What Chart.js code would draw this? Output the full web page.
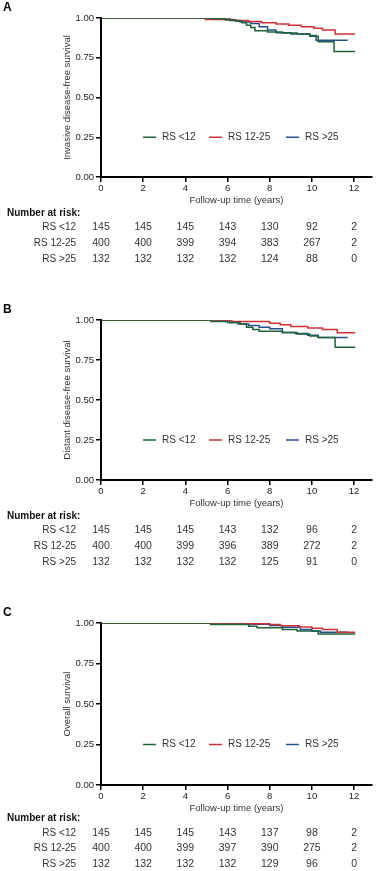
<!DOCTYPE html>
<html>
<head>
<meta charset="utf-8">
<script src="https://cdn.jsdelivr.net/npm/chart.js@4.4.1/dist/chart.umd.min.js"></script>
<style>
  body { margin: 0; background: #fff; width: 376px; height: 871px; overflow: hidden; position: relative; }
  .panel { position: absolute; left: 0; width: 376px; }
</style>
</head>
<body>
<div class="panel" style="top:0;height:302px"><canvas id="chartA"></canvas></div>
<div class="panel" style="top:302px;height:303px"><canvas id="chartB"></canvas></div>
<div class="panel" style="top:605px;height:266px"><canvas id="chartC"></canvas></div>
<script>
// Shared labels and ticks
const groupLabels = ['RS <12', 'RS 12-25', 'RS >25'];
const xTicks = [0, 2, 4, 6, 8, 10, 12];
const yTicks = [0, 0.25, 0.5, 0.75, 1];
const riskTimes = [0, 2, 4, 6, 8, 10, 12];

// A - invasive disease-free survival
const idfsLowTime = [0, 5.3, 5.9, 6.4, 6.7, 6.9, 7.1, 7.3, 7.9, 8.6, 9.3, 9.9, 10.3, 11.05, 12.05];
const idfsLowSurv = [1, 0.995, 0.988, 0.98, 0.97, 0.955, 0.94, 0.92, 0.912, 0.905, 0.9, 0.885, 0.85, 0.79, 0.79];
const idfsMidTime = [0, 4.95, 6.3, 7.0, 7.6, 8.3, 8.9, 9.5, 10.1, 10.5, 11.1, 12.05];
const idfsMidSurv = [1, 0.99, 0.985, 0.978, 0.97, 0.962, 0.955, 0.945, 0.935, 0.925, 0.9, 0.9];
const idfsHighTime = [0, 6.1, 6.6, 7.1, 7.5, 7.9, 8.3, 9.0, 9.9, 10.2, 11.7];
const idfsHighSurv = [1, 0.985, 0.975, 0.965, 0.945, 0.925, 0.908, 0.9, 0.89, 0.86, 0.86];
const idfsRiskLow = [145, 145, 145, 143, 130, 92, 2];
const idfsRiskMid = [400, 400, 399, 394, 383, 267, 2];
const idfsRiskHigh = [132, 132, 132, 132, 124, 88, 0];

// B - distant disease-free survival
const ddfsLowTime = [0, 5.2, 6.0, 6.6, 6.9, 7.2, 7.5, 8.6, 9.3, 9.9, 10.3, 11.1, 12.05];
const ddfsLowSurv = [1, 0.99, 0.985, 0.975, 0.955, 0.94, 0.93, 0.922, 0.912, 0.9, 0.89, 0.83, 0.83];
const ddfsMidTime = [0, 6.2, 8.0, 8.5, 9.0, 9.8, 10.5, 11.2, 12.05];
const ddfsMidSurv = [1, 0.99, 0.98, 0.97, 0.96, 0.95, 0.94, 0.92, 0.92];
const ddfsHighTime = [0, 6.1, 6.5, 7.0, 7.5, 8.0, 8.6, 9.2, 9.8, 10.3, 11.7];
const ddfsHighSurv = [1, 0.985, 0.975, 0.965, 0.955, 0.945, 0.922, 0.915, 0.905, 0.89, 0.89];
const ddfsRiskLow = [145, 145, 145, 143, 132, 96, 2];
const ddfsRiskMid = [400, 400, 399, 396, 389, 272, 2];
const ddfsRiskHigh = [132, 132, 132, 132, 125, 91, 0];

// C - overall survival
const osLowTime = [0, 5.2, 7.0, 7.4, 8.6, 9.3, 10.3, 12.05];
const osLowSurv = [1, 0.99, 0.98, 0.97, 0.96, 0.95, 0.932, 0.932];
const osMidTime = [0, 6.3, 8.0, 8.5, 9.4, 10.0, 10.5, 11.2, 12.05];
const osMidSurv = [1, 0.995, 0.99, 0.983, 0.975, 0.968, 0.96, 0.943, 0.943];
const osHighTime = [0, 6.1, 8.0, 8.6, 9.45, 10.0, 10.4, 11.7];
const osHighSurv = [1, 0.992, 0.985, 0.973, 0.96, 0.95, 0.943, 0.943];
const osRiskLow = [145, 145, 145, 143, 137, 98, 2];
const osRiskMid = [400, 400, 399, 397, 390, 275, 2];
const osRiskHigh = [132, 132, 132, 132, 129, 96, 0];

const FONT = "'Liberation Sans', Arial, sans-serif";
const groupColors = ['#1d6336', '#cf3036', '#24508e'];

const toPoints = (t, s) => t.map((v, i) => ({ x: v, y: s[i] }));

// Draws panel letter, in-plot legend and the number-at-risk table
const panelExtras = {
    id: 'panelExtras',
    afterDraw(chart, args, opts) {
        const { ctx, chartArea, scales } = chart;
        ctx.save();
        ctx.textBaseline = 'middle';

        ctx.font = 'bold 12px ' + FONT;
        ctx.fillStyle = '#000';
        ctx.textAlign = 'left';
        ctx.fillText(opts.letter, 3, chartArea.top - 10);

        // legend sits on the 0.25 line
        const ly = scales.y.getPixelForValue(0.25);
        const starts = [42, 108, 185];
        ctx.font = '10px ' + FONT;
        groupLabels.forEach((lab, i) => {
            const lx = chartArea.left + starts[i];
            ctx.strokeStyle = groupColors[i];
            ctx.lineWidth = 1.5;
            ctx.beginPath();
            ctx.moveTo(lx, ly);
            ctx.lineTo(lx + 13, ly);
            ctx.stroke();
            ctx.fillStyle = '#333';
            ctx.fillText(lab, lx + 19, ly);
        });

        const b = chartArea.bottom;
        ctx.font = 'bold 10px ' + FONT;
        ctx.fillStyle = '#111';
        ctx.textAlign = 'left';
        ctx.fillText('Number at risk:', 7, b + opts.rows[0]);

        opts.risk.forEach((row, i) => {
            const ry = b + opts.rows[i + 1];
            ctx.fillStyle = '#333';
            ctx.font = '10px ' + FONT;
            ctx.textAlign = 'right';
            ctx.fillText(groupLabels[i], 76, ry);
            ctx.font = '10.5px ' + FONT;
            ctx.textAlign = 'center';
            row.forEach((n, j) => ctx.fillText(String(n), scales.x.getPixelForValue(riskTimes[j]), ry));
        });
        ctx.restore();
    }
};

function makePanel(id, p) {
    const series = [p.low, p.mid, p.high];
    new Chart(document.getElementById(id), {
        type: 'line',
        data: {
            datasets: series.map((s, i) => ({
                label: groupLabels[i],
                data: toPoints(s[0], s[1]),
                borderColor: groupColors[i],
                borderWidth: 1.5,
                stepped: true,
                pointRadius: 0,
                fill: false
            }))
        },
        options: {
            responsive: true,
            maintainAspectRatio: false,
            animation: false,
            layout: { padding: { top: 18, right: 4, left: 0, bottom: p.padBottom } },
            plugins: {
                legend: { display: false },
                tooltip: { enabled: false },
                panelExtras: { letter: p.letter, risk: p.risk, rows: p.rows }
            },
            scales: {
                x: {
                    type: 'linear',
                    min: 0,
                    max: 12.85,
                    afterBuildTicks: s => { s.ticks = xTicks.map(v => ({ value: v })); },
                    afterFit: s => { s.height = 29; },
                    grid: { drawOnChartArea: false, color: '#000', lineWidth: 1.5, tickLength: 5 },
                    border: { color: '#000', width: 2 },
                    ticks: { color: '#222', font: { size: 9.5, family: FONT }, padding: 1, maxRotation: 0 },
                    title: {
                        display: true, text: 'Follow-up time (years)', color: '#333',
                        font: { size: 9.5, family: FONT }, padding: { top: 0, bottom: 0 }
                    }
                },
                y: {
                    min: 0,
                    max: 1,
                    afterBuildTicks: s => { s.ticks = yTicks.map(v => ({ value: v })); },
                    afterFit: s => { s.width = 101; },
                    grid: { drawOnChartArea: false, color: '#000', lineWidth: 1.5, tickLength: 5 },
                    border: { color: '#000', width: 2 },
                    ticks: {
                        color: '#222', font: { size: 9.5, family: FONT }, padding: 2,
                        callback: v => v.toFixed(2)
                    },
                    title: {
                        display: true, text: p.yTitle, color: '#333',
                        font: { size: 9.5, family: FONT }, padding: { top: 62, bottom: 0 }
                    }
                }
            }
        },
        plugins: [panelExtras]
    });
}

makePanel('chartA', {
    letter: 'A', yTitle: 'Invasive disease-free survival', padBottom: 96,
    low: [idfsLowTime, idfsLowSurv], mid: [idfsMidTime, idfsMidSurv], high: [idfsHighTime, idfsHighSurv],
    risk: [idfsRiskLow, idfsRiskMid, idfsRiskHigh], rows: [36, 50, 66, 82]
});
makePanel('chartB', {
    letter: 'B', yTitle: 'Distant disease-free survival', padBottom: 96,
    low: [ddfsLowTime, ddfsLowSurv], mid: [ddfsMidTime, ddfsMidSurv], high: [ddfsHighTime, ddfsHighSurv],
    risk: [ddfsRiskLow, ddfsRiskMid, ddfsRiskHigh], rows: [36, 50, 66, 82]
});
makePanel('chartC', {
    letter: 'C', yTitle: 'Overall survival', padBottom: 57,
    low: [osLowTime, osLowSurv], mid: [osMidTime, osMidSurv], high: [osHighTime, osHighSurv],
    risk: [osRiskLow, osRiskMid, osRiskHigh], rows: [33, 48, 63, 79]
});
</script>
</body>
</html>
